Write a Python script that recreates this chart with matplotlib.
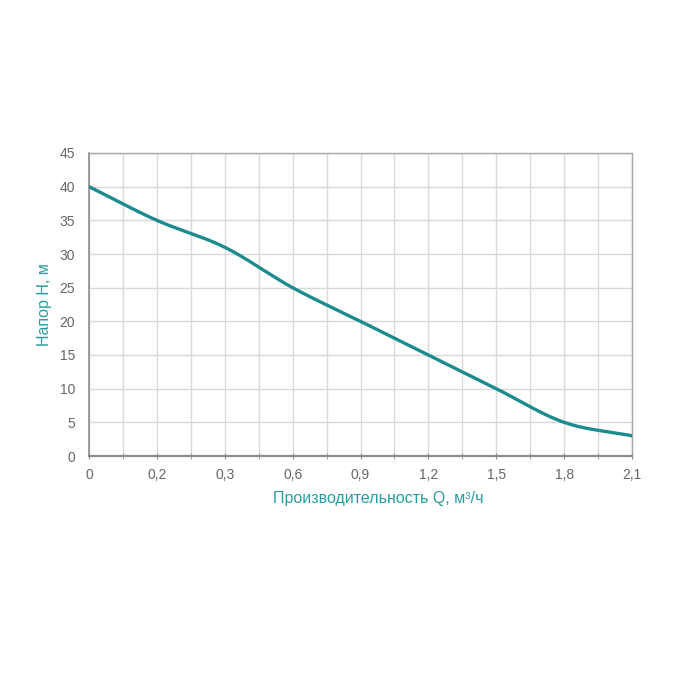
import numpy as np
import matplotlib
matplotlib.use("Agg")
import matplotlib.pyplot as plt

plt.rcParams['font.family'] = ['Liberation Sans', 'DejaVu Sans']

q_labels = ["0", "0,2", "0,3", "0,6", "0,9", "1,2", "1,5", "1,8", "2,1"]
head = [40, 35, 31, 25, 20, 15, 10, 5, 3]
y_ticks = [0, 5, 10, 15, 20, 25, 30, 35, 40, 45]

line_color = "#1b8b8e"
label_color = "#2a9da1"
tick_color = "#666666"
grid_color = "#d9d9d9"
spine_color = "#8c8c8c"


def catmull_rom(xs, ys, n=30):
    xs = np.asarray(xs, float)
    ys = np.asarray(ys, float)
    px = np.concatenate([[2 * xs[0] - xs[1]], xs, [2 * xs[-1] - xs[-2]]])
    py = np.concatenate([[2 * ys[0] - ys[1]], ys, [2 * ys[-1] - ys[-2]]])
    outx, outy = [], []
    for i in range(1, len(px) - 2):
        t = np.linspace(0, 1, n, endpoint=False)
        for p, out in ((px, outx), (py, outy)):
            p0, p1, p2, p3 = p[i - 1], p[i], p[i + 1], p[i + 2]
            out.extend(0.5 * ((2 * p1) + (-p0 + p2) * t +
                              (2 * p0 - 5 * p1 + 4 * p2 - p3) * t ** 2 +
                              (-p0 + 3 * p1 - 3 * p2 + p3) * t ** 3))
    outx.append(xs[-1])
    outy.append(ys[-1])
    return np.array(outx), np.array(outy)


fig = plt.figure(figsize=(7, 7), dpi=100)
ax = fig.add_axes([89 / 700, 1 - 456 / 700, (632 - 89) / 700, (456 - 153) / 700])

xpos = np.arange(len(q_labels))
sx, sy = catmull_rom(xpos, head)
ax.plot(sx, sy, color=line_color, lw=2.4, solid_capstyle='round', zorder=3)

ax.set_xlim(0, len(q_labels) - 1)
ax.set_ylim(0, 45)
ax.set_xticks(xpos)
ax.set_xticklabels(q_labels)
ax.set_xticks(np.arange(0.5, len(q_labels) - 1, 1.0), minor=True)
ax.set_yticks(y_ticks)

ax.grid(True, which='both', color=grid_color, lw=1.0, zorder=0)
ax.tick_params(axis='x', which='both', direction='inout', length=5, color=spine_color,
               labelcolor=tick_color, labelsize=10, pad=6)
ax.tick_params(axis='y', length=0, labelcolor=tick_color, labelsize=10, pad=10)

for s in ax.spines.values():
    s.set_color("#a6a6a6")
    s.set_linewidth(1.0)
ax.spines['bottom'].set_color(spine_color)
ax.spines['bottom'].set_linewidth(1.6)
ax.spines['left'].set_color(spine_color)
ax.spines['left'].set_linewidth(1.2)

ax.set_xlabel("Производительность Q, м³/ч", color=label_color, fontsize=11.5)
ax.set_ylabel("Напор H, м", color=label_color, fontsize=11.5)
ax.xaxis.set_label_coords((378 - 89) / 543, (456 - 498) / 303)
ax.xaxis.label.set_va('center')
ax.yaxis.set_label_coords((45 - 89) / 543, 0.5)
ax.yaxis.label.set_va('center')

fig.savefig("out.png", dpi=100, facecolor="white")
